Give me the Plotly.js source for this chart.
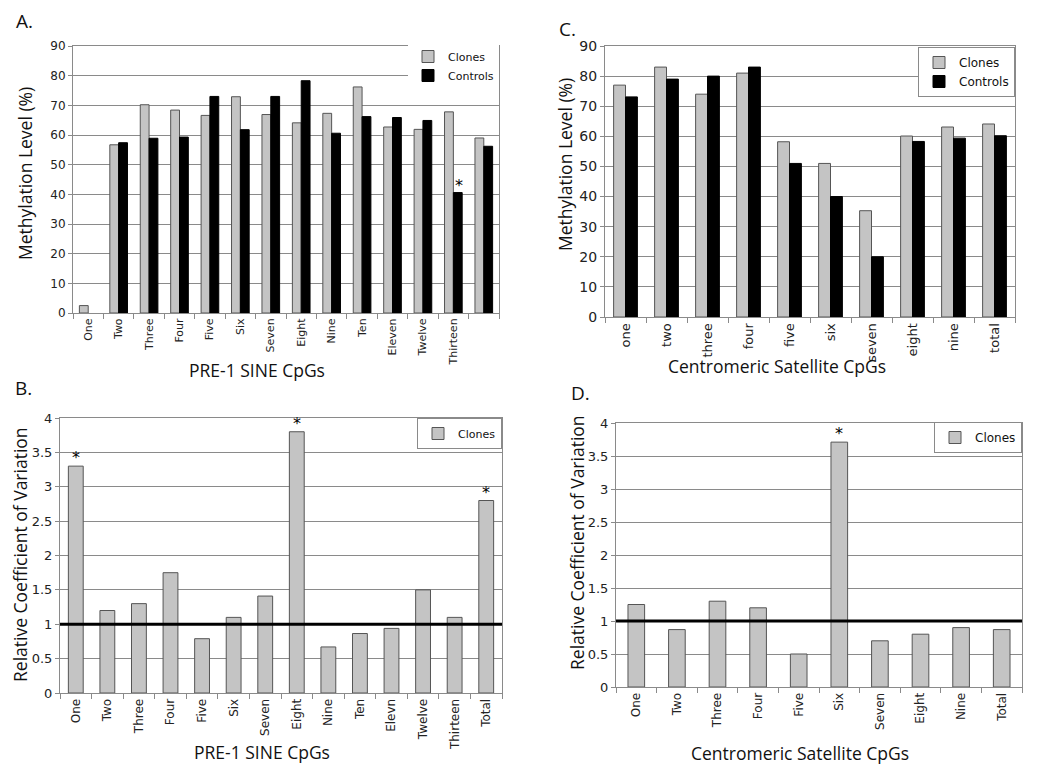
<!DOCTYPE html>
<html>
<head>
<meta charset="utf-8">
<script src="https://cdn.plot.ly/plotly-3.0.1.min.js"></script>
<style>html,body{margin:0;padding:0;background:#fff;}#chart{width:1041px;height:768px;}</style>
</head>
<body>
<div id="chart"></div>
<script>
// ---- Data ----
const catsA = ['One','Two','Three','Four','Five','Six','Seven','Eight','Nine','Ten','Eleven','Twelve','Thirteen','Total'];
const tickLabelsA = ['One','Two','Three','Four','Five','Six','Seven','Eight','Nine','Ten','Eleven','Twelve','Thirteen',''];
const clonesA = [2.5,56.7,70.2,68.4,66.6,72.9,66.9,64.1,67.3,76.2,62.7,61.9,67.8,59.0];
const controlsA = [null,57.4,58.9,59.3,73.0,61.8,73.0,78.3,60.6,66.2,65.9,64.9,40.6,56.2];
const sigA = ['Thirteen'];            // significant Controls bars

const catsC = ['one','two','three','four','five','six','seven','eight','nine','total'];
const clonesC = [77,83,74,81,58.2,51,35.3,60.1,63.1,64.1];
const controlsC = [73.1,79,80,83,51,40,20,58.3,59.4,60.2];

const catsB = ['One','Two','Three','Four','Five','Six','Seven','Eight','Nine','Ten','Elevn','Twelve','Thirteen','Total'];
const cvB = [3.3,1.2,1.3,1.75,0.79,1.1,1.41,3.8,0.67,0.865,0.94,1.5,1.1,2.8];
const sigB = ['One','Eight','Total'];

const catsD = ['One','Two','Three','Four','Five','Six','Seven','Eight','Nine','Total'];
const cvD = [1.25,0.87,1.3,1.2,0.5,3.71,0.7,0.8,0.9,0.87];
const sigD = ['Six'];

const threshold = 1;

const titleA = {x:'PRE-1 SINE CpGs', y:'Methylation Level (%)'};
const titleC = {x:'Centromeric Satellite CpGs', y:'Methylation Level (%)'};
const titleB = {x:'PRE-1 SINE CpGs', y:'Relative Coefficient of Variation'};
const titleD = {x:'Centromeric Satellite CpGs', y:'Relative Coefficient of Variation'};

// ---- Styles ----
const GREY = '#c4c4c4', EDGE = '#555555', GRID = '#8a8a8a';
const TICKF = 'DejaVu Sans, Verdana, sans-serif';
const TITLEF = 'Open Sans, Noto Sans, sans-serif';

function lookup(cats, vals, c){ return vals[cats.indexOf(c)]; }

const traces = [
  {type:'bar', name:'Clones', x:catsA, y:clonesA, xaxis:'x', yaxis:'y', legend:'legend',
   marker:{color:GREY, line:{color:EDGE, width:1}}, offset:-0.29, width:0.29},
  {type:'bar', name:'Controls', x:catsA, y:controlsA, xaxis:'x', yaxis:'y', legend:'legend',
   marker:{color:'#000', line:{color:'#000', width:1}}, offset:0, width:0.29},
  {type:'bar', name:'Clones', x:catsC, y:clonesC, xaxis:'x2', yaxis:'y2', legend:'legend2',
   marker:{color:GREY, line:{color:EDGE, width:1}}, offset:-0.29, width:0.29},
  {type:'bar', name:'Controls', x:catsC, y:controlsC, xaxis:'x2', yaxis:'y2', legend:'legend2',
   marker:{color:'#000', line:{color:'#000', width:1}}, offset:0, width:0.29},
  {type:'bar', name:'Clones', x:catsB, y:cvB, xaxis:'x3', yaxis:'y3', legend:'legend3',
   marker:{color:GREY, line:{color:EDGE, width:1}}, width:0.47},
  {type:'bar', name:'Clones', x:catsD, y:cvD, xaxis:'x4', yaxis:'y4', legend:'legend4',
   marker:{color:GREY, line:{color:EDGE, width:1}}, width:0.41}
];

function xax(domain, anchor, cats, ticktext, fs){
  const o = {domain:domain, anchor:anchor, type:'category', categoryorder:'array', categoryarray:cats,
    tickangle:-90, tickfont:{family:TICKF, size:fs, color:'#222'},
    showline:true, linecolor:GRID, linewidth:1, mirror:true,
    ticks:'outside', ticklen:5, tickcolor:GRID, tickson:'boundaries',
    showgrid:false, zeroline:false, automargin:false};
  if (ticktext){ o.tickmode='array'; o.tickvals=cats; o.ticktext=ticktext; }
  return o;
}
function yax(domain, anchor, range, dtick, fs){
  return {domain:domain, anchor:anchor, range:range, dtick:dtick, tick0:0,
    tickfont:{family:TICKF, size:fs, color:'#222'},
    showline:true, linecolor:GRID, linewidth:1, mirror:true,
    ticks:'outside', ticklen:4, tickcolor:GRID,
    showgrid:true, gridcolor:GRID, gridwidth:1, zeroline:false, automargin:false};
}

const W = 1041, H = 768;
const px = v => v / W, py = v => 1 - v / H;

const annotations = [];
sigA.forEach(c => annotations.push({xref:'x', yref:'y', x:c, y:lookup(catsA, controlsA, c), text:'*',
  showarrow:false, yanchor:'bottom', xshift:6, yshift:-4, font:{family:TICKF, size:16, color:'#000'}}));
sigB.forEach(c => annotations.push({xref:'x3', yref:'y3', x:c, y:lookup(catsB, cvB, c), text:'*',
  showarrow:false, yanchor:'bottom', yshift:-3, font:{family:TICKF, size:16, color:'#000'}}));
sigD.forEach(c => annotations.push({xref:'x4', yref:'y4', x:c, y:lookup(catsD, cvD, c), text:'*',
  showarrow:false, yanchor:'bottom', yshift:-3, font:{family:TICKF, size:16, color:'#000'}}));

// panel letters
[['A.',14,21],['C.',557,29],['B.',13,388],['D.',569,393]].forEach(p => annotations.push({
  xref:'paper', yref:'paper', x:px(p[1]), y:py(p[2]), xanchor:'left', yanchor:'middle', showarrow:false,
  text:p[0], font:{family:TITLEF, size:19, color:'#111'}}));

// axis titles (Excel-style placement, centred on chart area)
const tf = {family:TITLEF, size:17.5, color:'#111'};
[[titleA.x,257,370],[titleC.x,777,366],[titleB.x,262,752],[titleD.x,800,753]].forEach(t => annotations.push({
  xref:'paper', yref:'paper', x:px(t[1]), y:py(t[2]), xanchor:'center', yanchor:'middle', showarrow:false,
  text:t[0], font:tf}));
[[titleA.y,25,174],[titleC.y,565,165],[titleB.y,20,555],[titleD.y,577,543]].forEach(t => annotations.push({
  xref:'paper', yref:'paper', x:px(t[1]), y:py(t[2]), xanchor:'center', yanchor:'middle', showarrow:false,
  textangle:-90, text:t[0], font:tf}));

const layout = {
  width:W, height:H, margin:{l:0,r:0,t:0,b:0}, paper_bgcolor:'#fff', plot_bgcolor:'#fff',
  barmode:'overlay', showlegend:true,
  xaxis: xax([px(73), px(499)], 'y', catsA, tickLabelsA, 11),
  yaxis: yax([py(313), py(46)], 'x', [0,90], 10, 12),
  xaxis2: xax([px(605), px(1015)], 'y2', catsC, null, 13),
  yaxis2: yax([py(317), py(46)], 'x2', [0,90], 10, 14),
  xaxis3: xax([px(60), px(502)], 'y3', catsB, null, 12),
  yaxis3: yax([py(693), py(418)], 'x3', [0,4], 0.5, 13),
  xaxis4: xax([px(616), px(1022)], 'y4', catsD, null, 12),
  yaxis4: yax([py(687), py(423)], 'x4', [0,4], 0.5, 13),
  legend: {x:px(499), y:py(42), xanchor:'right', yanchor:'top', bgcolor:'#fff', borderwidth:0,
    font:{family:TICKF, size:11, color:'#111'}, tracegroupgap:0, itemwidth:30},
  legend2: {x:px(1015), y:py(47), xanchor:'right', yanchor:'top', bgcolor:'#fff', bordercolor:GRID, borderwidth:1,
    font:{family:TICKF, size:12, color:'#111'}, tracegroupgap:0, itemwidth:30},
  legend3: {x:px(502), y:py(418), xanchor:'right', yanchor:'top', bgcolor:'#fff', bordercolor:GRID, borderwidth:1,
    font:{family:TICKF, size:11, color:'#111'}, itemwidth:30},
  legend4: {x:px(1022), y:py(422), xanchor:'right', yanchor:'top', bgcolor:'#fff', bordercolor:GRID, borderwidth:1,
    font:{family:TICKF, size:12, color:'#111'}, itemwidth:30},
  shapes: [
    {type:'line', xref:'x3 domain', yref:'y3', x0:0, x1:1, y0:threshold, y1:threshold, line:{color:'#000', width:3}},
    {type:'line', xref:'x4 domain', yref:'y4', x0:0, x1:1, y0:threshold, y1:threshold, line:{color:'#000', width:3}}
  ],
  annotations: annotations
};

Plotly.newPlot('chart', traces, layout, {staticPlot:true, displayModeBar:false});
</script>
</body>
</html>
